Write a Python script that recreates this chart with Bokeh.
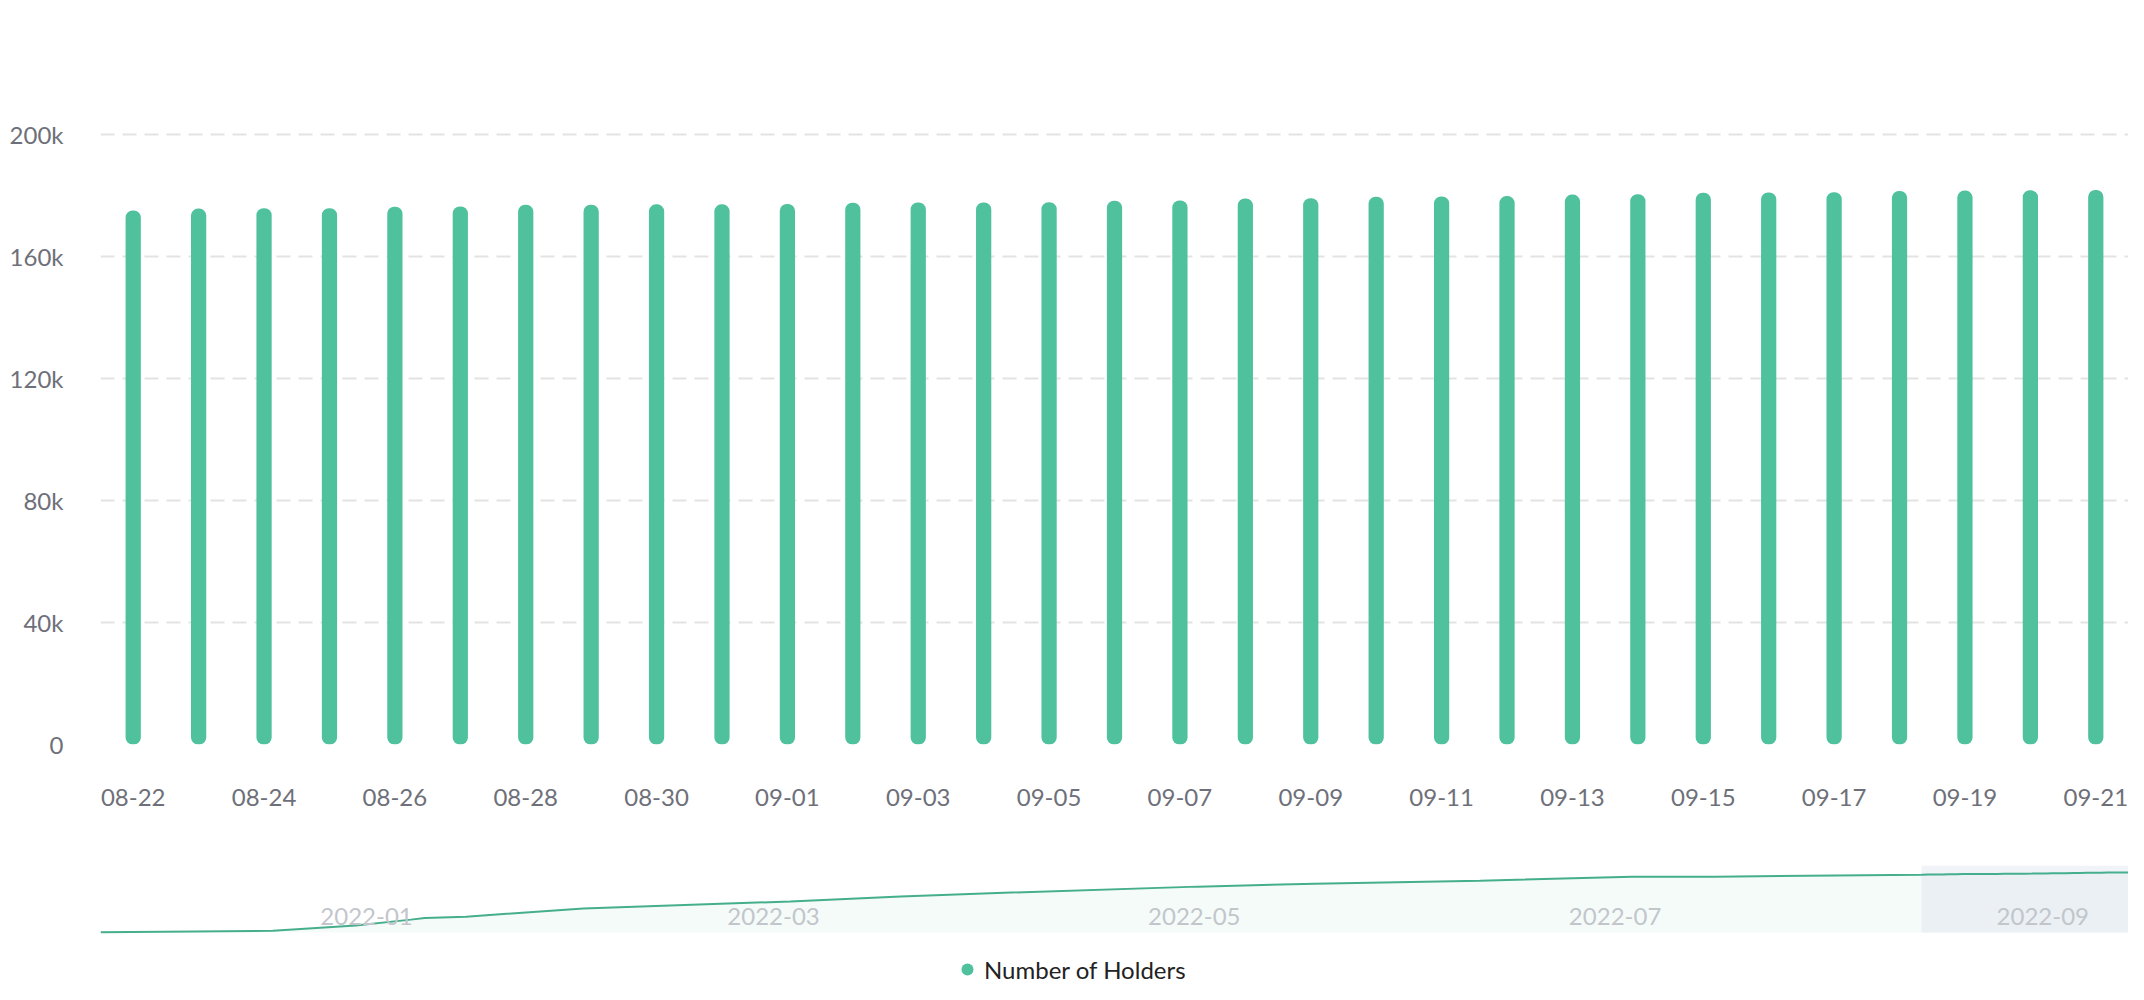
import pandas as pd
from bokeh.plotting import figure
from bokeh.layouts import column
from bokeh.models import Range1d, FixedTicker, Legend, LegendItem
from bokeh.core.properties import value
from bokeh.embed import file_html
from bokeh.resources import INLINE

# ---------------- data ----------------
year = "2022"
dates = ["08-22", "08-23", "08-24", "08-25", "08-26", "08-27", "08-28", "08-29",
         "08-30", "08-31", "09-01", "09-02", "09-03", "09-04", "09-05", "09-06",
         "09-07", "09-08", "09-09", "09-10", "09-11", "09-12", "09-13", "09-14",
         "09-15", "09-16", "09-17", "09-18", "09-19", "09-20", "09-21"]
holders = [175100, 175700, 175800, 175800, 176300, 176400, 177000, 177000,
           177100, 177100, 177200, 177600, 177700, 177700, 177800, 178300,
           178400, 179000, 179100, 179600, 179700, 179800, 180300, 180400,
           180900, 181000, 181100, 181500, 181600, 181700, 181800]

y_ticks = [0, 40000, 80000, 120000, 160000, 200000]
y_tick_labels = ["0", "40k", "80k", "120k", "160k", "200k"]

# overview (data-zoom slider) history before the selected window
history_dates = ["2021-12-01", "2021-12-26", "2022-01-07", "2022-01-15", "2022-01-17",
                 "2022-01-23", "2022-02-09", "2022-03-11", "2022-03-27", "2022-04-12",
                 "2022-05-09", "2022-05-26", "2022-06-19", "2022-07-11", "2022-07-23"]
history_values = [1000, 5000, 21000, 39000, 44000,
                  48000, 73000, 94000, 109000, 121000,
                  139000, 148000, 157000, 169000, 169000]

month_ticks = ["2022-01-01", "2022-03-01", "2022-05-01", "2022-07-01", "2022-09-01"]
month_labels = ["2022-01", "2022-03", "2022-05", "2022-07", "2022-09"]

series_name = "Number of Holders"

# ---------------- style ----------------
GREEN = "#4fc19d"
FONT = "Lato"
LABEL_GREY = "#6e7079"

# ---------------- main chart ----------------
idx = list(range(len(dates)))
y_top = y_ticks[-1] * (1 + 2 / 610)
p = figure(width=2128, height=850,
           x_range=Range1d(-0.5, len(dates) - 0.5), y_range=Range1d(0, y_top),
           output_backend="svg", toolbar_location=None,
           min_border_left=100, min_border_right=0,
           min_border_top=132, min_border_bottom=106)

p.vbar(x=idx, top=holders, bottom=0, width=0.233,
       fill_color=GREEN, line_color=None, border_radius=7)

p.outline_line_color = None
p.xgrid.visible = False
p.ygrid.grid_line_color = "#e3e3e3"
p.ygrid.grid_line_width = 2
p.ygrid.grid_line_dash = "14 8"

p.yaxis.ticker = FixedTicker(ticks=y_ticks)
p.yaxis.major_label_overrides = dict(zip(y_ticks, y_tick_labels))
p.xaxis.ticker = FixedTicker(ticks=idx[::2])
p.xaxis.major_label_overrides = {i: dates[i] for i in idx[::2]}

for ax in (p.xaxis, p.yaxis):
    ax.axis_line_color = None
    ax.major_tick_line_color = None
    ax.minor_tick_line_color = None
    ax.major_label_text_font = FONT
    ax.major_label_text_font_size = "24px"
    ax.major_label_text_color = LABEL_GREY
p.xaxis.major_label_standoff = 38
p.yaxis.major_label_standoff = 31

# ---------------- overview slider ----------------
ov_dates = pd.to_datetime(history_dates + [year + "-" + d for d in dates])
ov_values = history_values + holders
M = max(ov_values)
sel_start = pd.Timestamp(year + "-" + dates[0])
sel_end = pd.Timestamp(year + "-" + dates[-1])

y_lo = -M * 52 / 60
y_hi = M * 67 / 60
p2 = figure(width=2128, height=134, x_axis_type="datetime",
            x_range=Range1d(ov_dates[0], ov_dates[-1]), y_range=Range1d(y_lo, y_hi),
            x_axis_location=None, y_axis_location=None,
            output_backend="svg", toolbar_location=None,
            min_border_left=100, min_border_right=0,
            min_border_top=15, min_border_bottom=0)
p2.outline_line_color = None
p2.grid.visible = False

p2.varea(x=ov_dates, y1=0, y2=ov_values, fill_color=GREEN, fill_alpha=0.06)
p2.quad(left=[sel_start], right=[sel_end], bottom=[0], top=[y_hi],
        fill_color="#d9e2ee", fill_alpha=0.4, line_color=None)
p2.line(x=ov_dates, y=ov_values, line_color="#45ae8c", line_width=2)
p2.text(x=pd.to_datetime(month_ticks), y=[0.27 * M] * len(month_ticks), text=month_labels,
        text_font=value(FONT), text_font_size="24px", text_color="#c2c6cb",
        text_align="left", text_baseline="middle", x_offset=6)

dummy = p2.scatter(x=[float("nan")], y=[float("nan")], marker="circle", size=12,
                   fill_color=GREEN, line_color=None)
legend = Legend(items=[LegendItem(label=series_name, renderers=[dummy])],
                location=(852, 0), orientation="horizontal",
                label_text_font=FONT, label_text_font_size="24px",
                label_text_color="#222222", glyph_width=30, glyph_height=30,
                label_standoff=2, padding=0, margin=0, spacing=0,
                border_line_color=None, background_fill_alpha=0)
p2.add_layout(legend)

layout = column(p, p2, spacing=0)
open("out.html", "w").write(file_html(layout, INLINE))
